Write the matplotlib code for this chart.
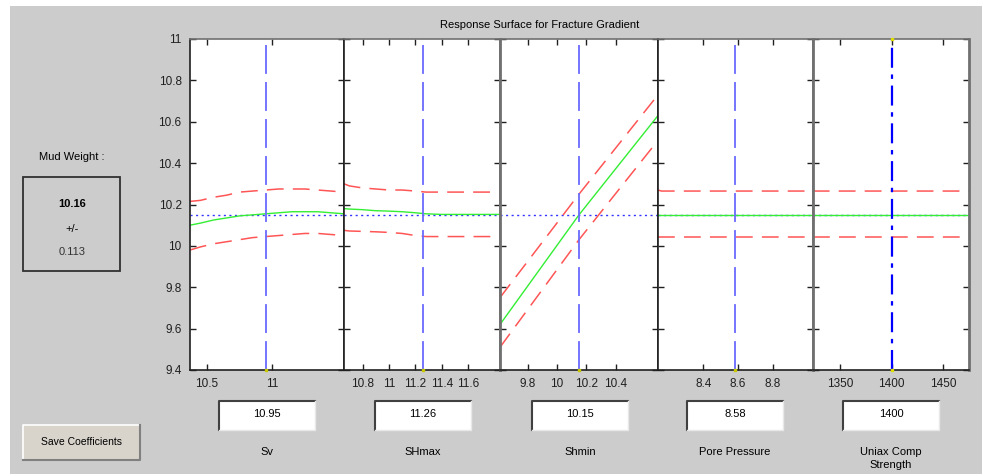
import matplotlib
matplotlib.use("Agg")
import matplotlib.pyplot as plt
from matplotlib.patches import Rectangle

plt.rcParams['font.family'] = ['Liberation Sans', 'DejaVu Sans']

W, H = 982, 474

# ---- data ----
sv_x = [10.37, 10.45, 10.55, 10.65, 10.75, 10.85, 10.95, 11.05, 11.15, 11.25, 11.35, 11.45, 11.55]
sv_fit = [10.10, 10.11, 10.125, 10.135, 10.145, 10.15, 10.155, 10.16, 10.165, 10.165, 10.165, 10.16, 10.155]
sv_hi = [10.215, 10.22, 10.235, 10.245, 10.26, 10.265, 10.27, 10.275, 10.275, 10.275, 10.27, 10.265, 10.26]
sv_lo = [9.98, 9.995, 10.01, 10.02, 10.03, 10.04, 10.045, 10.05, 10.055, 10.06, 10.06, 10.055, 10.05]

shmax_x = [10.66, 10.7, 10.8, 10.9, 11.0, 11.1, 11.2, 11.28, 11.4, 11.5, 11.6, 11.7, 11.84]
shmax_fit = [10.18, 10.178, 10.175, 10.17, 10.168, 10.165, 10.16, 10.155, 10.152, 10.152, 10.152, 10.152, 10.152]
shmax_hi = [10.30, 10.29, 10.28, 10.275, 10.27, 10.27, 10.265, 10.26, 10.26, 10.26, 10.26, 10.26, 10.26]
shmax_lo = [10.075, 10.072, 10.07, 10.068, 10.065, 10.06, 10.05, 10.045, 10.045, 10.045, 10.045, 10.045, 10.045]

shmin_x = [9.61, 10.15, 10.69]
shmin_fit = [9.62, 10.15, 10.63]
shmin_hi = [9.75, 10.25, 10.73]
shmin_lo = [9.51, 10.03, 10.51]

pp_x = [8.14, 8.16, 9.03]
pp_fit = [10.15, 10.15, 10.15]
pp_hi = [10.27, 10.265, 10.265]
pp_lo = [10.045, 10.045, 10.045]

ucs_x = [1324, 1326, 1475]
ucs_fit = [10.15, 10.15, 10.15]
ucs_hi = [10.27, 10.265, 10.265]
ucs_lo = [10.045, 10.045, 10.045]

names = ["Sv", "SHmax", "Shmin", "Pore Pressure", "Uniax Comp\nStrength"]
current = [10.95, 11.26, 10.15, 8.58, 1400]
current_txt = ["10.95", "11.26", "10.15", "8.58", "1400"]
xlims = [(10.37, 11.55), (10.66, 11.84), (9.61, 10.69), (8.14, 9.03), (1324, 1475)]
xticks = [[10.5, 11], [10.8, 11, 11.2, 11.4, 11.6], [9.8, 10, 10.2, 10.4],
          [8.4, 8.6, 8.8], [1350, 1400, 1450]]
series = [(sv_x, sv_fit, sv_hi, sv_lo), (shmax_x, shmax_fit, shmax_hi, shmax_lo),
          (shmin_x, shmin_fit, shmin_hi, shmin_lo), (pp_x, pp_fit, pp_hi, pp_lo),
          (ucs_x, ucs_fit, ucs_hi, ucs_lo)]
yticks = [9.4, 9.6, 9.8, 10, 10.2, 10.4, 10.6, 10.8, 11]
mud_weight = 10.16
mud_err = 0.113

fig = plt.figure(figsize=(W / 100, H / 100), dpi=100, facecolor="white")

# background canvas in pixel coords
bg = fig.add_axes([0, 0, 1, 1], zorder=0)
bg.set_xlim(0, W)
bg.set_ylim(H, 0)
bg.axis("off")
bg.add_patch(Rectangle((10, 6), W - 10, H - 6, facecolor="#cccccc", edgecolor="none"))

bg.text(540, 25, "Response Surface for Fracture Gradient", ha="center", va="center", fontsize=8)

# mud weight box
bg.text(72, 157, "Mud Weight :", ha="center", va="center", fontsize=8)
bg.add_patch(Rectangle((23, 177), 97, 94, facecolor="none", edgecolor="#303030", lw=1.3))
bg.text(72, 204, "%.2f" % mud_weight, ha="center", va="center", fontsize=8, fontweight="bold")
bg.text(72, 229, "+/-", ha="center", va="center", fontsize=8)
bg.text(72, 252, "%.3f" % mud_err, ha="center", va="center", fontsize=8, color="#333333")

# save button
bg.add_patch(Rectangle((23, 425), 117, 35, facecolor="#d8d4cc", edgecolor="none"))
bg.plot([23, 23, 140], [460, 425, 425], color="white", lw=1.2)
bg.plot([23, 140, 140], [460, 460, 425], color="#808080", lw=1.5)
bg.text(82, 442, "Save Coefficients", ha="center", va="center", fontsize=7.5)

edges = [190, 344, 500, 658, 813, 969]
top, bottom = 39, 370
spine_col = ["#202020", "#202020", "#707070", "#202020", "#707070", "#707070"]
spine_lw = [1.2, 1.2, 2.0, 1.2, 2.0, 2.0]
box_x = [219, 375, 532, 687, 843]

for i in range(5):
    x0, x1 = edges[i], edges[i + 1]
    ax = fig.add_axes([x0 / W, 1 - bottom / H, (x1 - x0) / W, (bottom - top) / H], zorder=2)
    ax.set_facecolor("white")
    xs, fit, hi, lo = series[i]
    ax.axhline(10.15, color="#3333ff", ls=(0, (1.5, 2.5)), lw=1.0, zorder=1)
    ax.plot(xs, fit, color="#33ee33", lw=1.0, zorder=2)
    ax.plot(xs, hi, color="#ff5555", lw=1.1, dashes=(11, 6), zorder=2)
    ax.plot(xs, lo, color="#ff5555", lw=1.1, dashes=(11, 6), zorder=2)
    if i < 4:
        ax.axvline(current[i], color="#6a6aff", lw=1.3, dashes=(16, 4.5), zorder=3)
        ax.plot([current[i]], [9.4], marker="s", ms=2, color="#c8c800", clip_on=False, zorder=4)
    else:
        ax.axvline(current[i], color="#0000ff", lw=1.6, dashes=(9, 3, 2, 3), zorder=3)
        ax.plot([current[i], current[i]], [9.4, 11], ls="none", marker="s", ms=2,
                color="#e0e000", clip_on=False, zorder=4)
    ax.set_xlim(*xlims[i])
    ax.set_ylim(9.4, 11)
    ax.set_xticks(xticks[i])
    ax.set_xticklabels(["%g" % v for v in xticks[i]])
    ax.set_yticks(yticks)
    if i == 0:
        ax.set_yticklabels(["%g" % v for v in yticks])
    else:
        ax.set_yticklabels([])
    ax.tick_params(direction="in", length=4, width=1, top=True, right=True,
                   labelsize=8.5, pad=6, colors="#202020")
    for s in ax.spines.values():
        s.set_color("#202020")
        s.set_linewidth(1.2)
    ax.spines["top"].set_color("#707070")
    ax.spines["left"].set_color(spine_col[i])
    ax.spines["left"].set_linewidth(spine_lw[i])
    ax.spines["right"].set_color(spine_col[i + 1])
    ax.spines["right"].set_linewidth(spine_lw[i + 1])

    # value box and name under the panel
    bx = box_x[i]
    bg.add_patch(Rectangle((bx, 401), 96, 29, facecolor="white", edgecolor="none"))
    bg.plot([bx, bx, bx + 96], [430, 401, 401], color="#404040", lw=1.5)
    bg.plot([bx, bx + 96, bx + 96], [430, 430, 401], color="#e8e8e8", lw=1.0)
    bg.text(bx + 48, 414, current_txt[i], ha="center", va="center", fontsize=8)
    bg.text(bx + 48, 447, names[i], ha="center", va="top", fontsize=8, linespacing=1.4)

fig.savefig("out.png", dpi=100, facecolor=fig.get_facecolor())
